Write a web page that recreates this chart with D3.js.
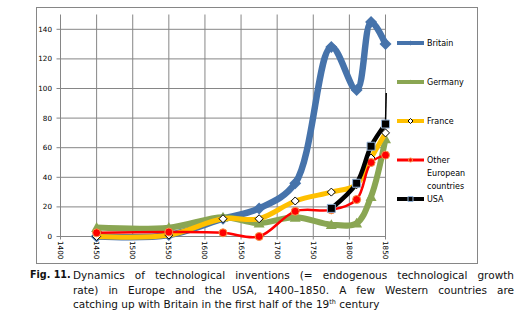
<!DOCTYPE html>
<html>
<head>
<meta charset="utf-8">
<script src="https://cdn.jsdelivr.net/npm/d3@7"></script>
<style>
  body { margin: 0; background: #fff; }
  #chart { position: absolute; left: 0; top: 0; }
  .caption {
    position: absolute; left: 30px; top: 268px; width: 484px;
    font-family: "DejaVu Sans", Verdana, sans-serif; font-size: 10.5px;
    line-height: 14.5px; color: #111;
  }
  .caption .lbl { position: absolute; left: 0; top: 0; font-weight: bold; font-size: 9.6px; }
  .caption .line { margin-left: 43px; white-space: nowrap; }
  .caption .just { text-align: justify; text-align-last: justify; white-space: normal; }
  .caption sup { font-size: 6.5px; vertical-align: 4px; line-height: 0; }
</style>
</head>
<body>
<svg id="chart" width="526" height="321"></svg>
<div class="caption">
  <span class="lbl">Fig. 11.</span>
  <div class="line just">Dynamics of technological inventions (= endogenous technological growth</div>
  <div class="line just">rate) in Europe and the USA, 1400–1850. A few Western countries are</div>
  <div class="line">catching up with Britain in the first half of the 19<sup>th</sup> century</div>
</div>
<script>
// inventions per period, by country
const years = [1450, 1550, 1625, 1675, 1725, 1775, 1810, 1830, 1850];
const britain = [0, 1, 12, 19, 36, 128, 99, 145, 130];
const germany = [6, 6, 13, 9, 13, 8, 9, 27, 66];
const france = [0, 1, 12, 12, 24, 30, 35, 53, 70];
const otherEurope = [2.5, 3, 2.5, 0, 17, 18, 25, 50, 55];
const usaYears = [1775, 1810, 1830, 1850];
const usa = [19, 36, 61, 76];
const usaTail = [[1850, 76], [1851, 97]];

const xTicks = d3.range(1400, 1851, 50);
const yTicks = d3.range(0, 141, 20);

const series = [
  { name: "Britain", years: years, values: britain, color: "#4673ab", width: 6.5, marker: "diamond", size: 12, fill: "#4673ab", stroke: "none" },
  { name: "Germany", years: years, values: germany, color: "#8aa653", width: 6, marker: "triangle", size: 11, fill: "#8aa653", stroke: "none" },
  { name: "France", years: years, values: france, color: "#ffc000", width: 5, marker: "diamond", size: 8, fill: "#fff", stroke: "#000" },
  { name: ["Other", "European", "countries"], years: years, values: otherEurope, color: "#ff0000", width: 2.5, marker: "circle", size: 8, fill: "#ff0000", stroke: "#f79646" },
  { name: "USA", years: usaYears, values: usa, color: "#000", width: 4.5, marker: "square", size: 8, fill: "#000", stroke: "#95b3d7" }
];

const svg = d3.select("#chart");
const font = "'DejaVu Sans', Verdana, sans-serif";
const gridColor = "#868686";

// outer frame
svg.append("rect")
  .attr("x", 36.5).attr("y", 7.5).attr("width", 441).attr("height", 256)
  .attr("fill", "none").attr("stroke", gridColor);

const x = d3.scaleLinear().domain([1400, 1850]).range([60.5, 385.5]);
const y = d3.scaleLinear().domain([0, 150]).range([236.5, 14.5]);

// gridlines
const grid = svg.append("g").attr("stroke", gridColor).attr("stroke-width", 1);
grid.selectAll("line.v").data(xTicks).join("line")
  .attr("x1", d => x(d)).attr("x2", d => x(d))
  .attr("y1", y(150)).attr("y2", y(0) + 3);
grid.selectAll("line.h").data(yTicks).join("line")
  .attr("x1", x(1400) - 4).attr("x2", x(1850))
  .attr("y1", d => y(d)).attr("y2", d => y(d));

// tick labels
svg.append("g").selectAll("text").data(yTicks).join("text")
  .attr("x", 52).attr("y", d => y(d)).attr("dy", "0.35em")
  .attr("text-anchor", "end")
  .attr("font-family", font).attr("font-size", 7.2).attr("fill", "#000")
  .text(d => d);

svg.append("g").selectAll("text").data(xTicks).join("text")
  .attr("transform", d => `translate(${x(d)},${241}) rotate(90)`)
  .attr("dy", "0.35em")
  .attr("font-family", font).attr("font-size", 7.2).attr("fill", "#000")
  .text(d => d);

const line = d3.line()
  .x(d => x(d[0])).y(d => y(d[1]))
  .curve(d3.curveCatmullRom.alpha(0.5));

function markerPath(type, s) {
  const h = s / 2;
  if (type === "diamond") return `M0,${-h}L${h},0L0,${h}L${-h},0Z`;
  if (type === "triangle") return `M0,${-h}L${h},${h * 0.8}L${-h},${h * 0.8}Z`;
  return `M${-h},${-h}H${h}V${h}H${-h}Z`;
}

function drawMarker(g, s, size) {
  if (s.marker === "circle") {
    g.append("circle").attr("r", size / 2)
      .attr("fill", s.fill).attr("stroke", s.stroke).attr("stroke-width", 1);
  } else {
    g.append("path").attr("d", markerPath(s.marker, size))
      .attr("fill", s.fill).attr("stroke", s.stroke).attr("stroke-width", 1);
  }
}

series.forEach(s => {
  const pts = s.years.map((yr, i) => [yr, s.values[i]]);
  const g = svg.append("g");
  g.append("path").attr("d", line(pts))
    .attr("fill", "none").attr("stroke", s.color)
    .attr("stroke-width", s.width).attr("stroke-linejoin", "round");
  if (s.name === "USA") {
    g.append("path").attr("d", d3.line().x(d => x(d[0])).y(d => y(d[1]))(usaTail))
      .attr("fill", "none").attr("stroke", "#000").attr("stroke-width", 1.5);
  }
  pts.forEach(p => {
    const m = g.append("g").attr("transform", `translate(${x(p[0])},${y(p[1])})`);
    drawMarker(m, s, s.size);
  });
});

// legend
const legendY = [43, 82, 121, 160, 199];
series.forEach((s, i) => {
  const g = svg.append("g").attr("transform", `translate(397,${legendY[i]})`);
  g.append("line").attr("x1", 0).attr("x2", 27)
    .attr("stroke", s.color).attr("stroke-width", Math.max(3, Math.min(s.width, 4)));
  const m = g.append("g").attr("transform", "translate(13.5,0)");
  drawMarker(m, s, s.marker === "circle" ? 4 : 5);
  const names = Array.isArray(s.name) ? s.name : [s.name];
  const t = g.append("text").attr("x", 30).attr("y", 0)
    .attr("font-family", font).attr("font-size", 8).attr("fill", "#000");
  names.forEach((n, k) => {
    t.append("tspan").attr("x", 30).attr("dy", k === 0 ? "0.35em" : 13).text(n);
  });
});
</script>
</body>
</html>
